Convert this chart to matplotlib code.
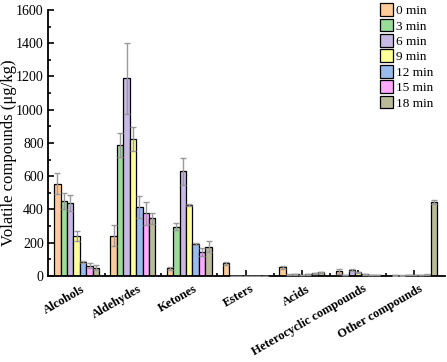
import numpy as np
import matplotlib
matplotlib.use("Agg")
import matplotlib.pyplot as plt
import matplotlib.transforms as mtransforms
from matplotlib.ticker import MultipleLocator, FixedLocator

plt.rcParams["font.family"] = ["Liberation Serif", "DejaVu Serif"]

categories = ["Alcohols", "Aldehydes", "Ketones", "Esters", "Acids",
              "Heterocyclic compounds", "Other compounds"]
times = ["0 min", "3 min", "6 min", "9 min", "12 min", "15 min", "18 min"]

mean_0 = [556, 242, 46, 76, 52, 28, 3]
mean_3 = [450, 788, 297, 0, 8, 5, 2]
mean_6 = [440, 1188, 630, 0, 9, 38, 4]
mean_9 = [242, 826, 428, 0, 6, 22, 5]
mean_12 = [86, 417, 190, 0, 10, 10, 6]
mean_15 = [62, 377, 142, 0, 15, 4, 8]
mean_18 = [50, 347, 176, 0, 21, 6, 447]

err_0 = [64, 64, 8, 10, 8, 16, 1]
err_3 = [50, 74, 20, 0, 2, 2, 1]
err_6 = [50, 212, 80, 0, 2, 6, 1]
err_9 = [31, 72, 5, 0, 2, 5, 1]
err_12 = [5, 66, 6, 0, 2, 2, 1]
err_15 = [14, 70, 24, 0, 2, 1, 1]
err_18 = [14, 34, 34, 0, 3, 2, 12]

means = [mean_0, mean_3, mean_6, mean_9, mean_12, mean_15, mean_18]
errs = [err_0, err_3, err_6, err_9, err_12, err_15, err_18]
colors = ["#FFCC99", "#99DD99", "#C8B8E4", "#FFFF99", "#99BBEE", "#FFAAFF", "#BBBB99"]

fig = plt.figure(figsize=(4.47, 3.62), dpi=100)
ax = fig.add_axes([0.1085, 0.2376, 0.888, 0.7348])

x = np.arange(len(categories))
n = len(times)
w = 0.8 / n
for i, (m, e, c, lab) in enumerate(zip(means, errs, colors, times)):
    pos = x - 0.4 + w * (i + 0.5)
    ax.bar(pos, m, width=w, color=c, edgecolor="black", linewidth=0.9,
           label=lab, zorder=2)
    ax.errorbar(pos, m, yerr=e, fmt="none", ecolor="#999999", elinewidth=1.0,
                capsize=2.5, capthick=1.0, zorder=3)

ax.set_xlim(-0.5, 6.55)
ax.set_ylim(0, 1600)
ax.yaxis.set_major_locator(MultipleLocator(200))
ax.yaxis.set_minor_locator(MultipleLocator(100))
ax.set_xticks(x)
ax.xaxis.set_minor_locator(FixedLocator(x[:-1] + 0.5))
ax.set_xticklabels(categories, rotation=30, ha="right", rotation_mode="anchor",
                   fontweight="bold", fontsize=9)
ax.tick_params(axis="both", which="major", direction="in", length=4, width=1.2,
               labelsize=10)
ax.tick_params(axis="x", which="major", labelsize=9, pad=5)
ax.tick_params(axis="both", which="minor", direction="in", length=2, width=1.2)

# nudge rotated labels a little right, as in the original
shift = mtransforms.ScaledTranslation(3 / 72, 0, fig.dpi_scale_trans)
for lbl in ax.get_xticklabels():
    lbl.set_transform(lbl.get_transform() + shift)

for side in ["top", "right"]:
    ax.spines[side].set_visible(False)
for side in ["left", "bottom"]:
    ax.spines[side].set_linewidth(1.3)

fig.text(0.021, 0.577, "Volatile compounds (μg/kg)", rotation=90,
         ha="center", va="center", fontsize=12)

ax.legend(loc="upper right", bbox_to_anchor=(0.99, 1.055), frameon=False, fontsize=9.5,
          handlelength=1.0, handleheight=1.1, handletextpad=0.25, labelspacing=0.12,
          borderaxespad=0.2)

fig.savefig("out.png", dpi=100)
